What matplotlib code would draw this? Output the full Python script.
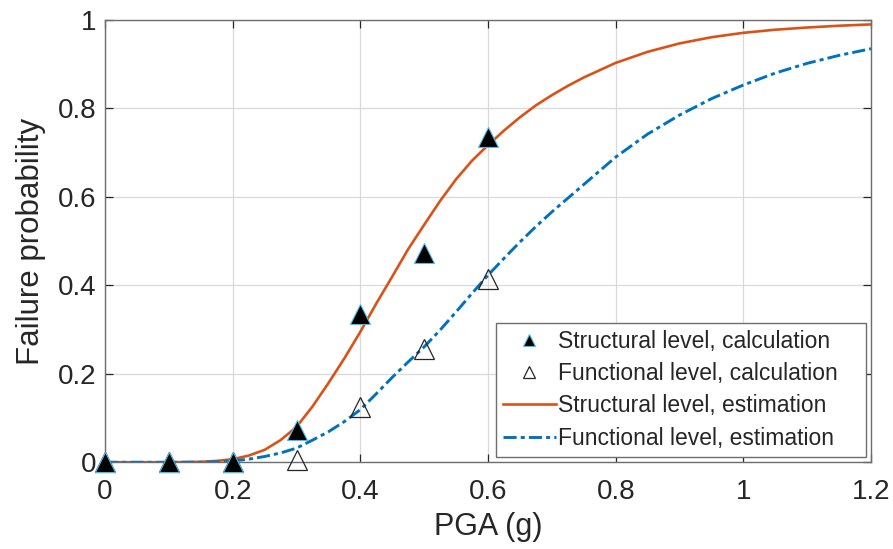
import matplotlib
matplotlib.use('Agg')
import matplotlib.pyplot as plt
import numpy as np

plt.rcParams['font.family'] = ['Liberation Sans', 'DejaVu Sans']

# --- Data ---
pga_calc = [0.0, 0.1, 0.2, 0.3, 0.4, 0.5, 0.6]
struct_calc = [0.0, 0.0, 0.0, 0.073, 0.336, 0.474, 0.736]
func_calc = [0.0, 0.0, 0.0, 0.005, 0.124, 0.256, 0.414]

pga_est = [0.0, 0.05, 0.10, 0.15, 0.175, 0.20, 0.225, 0.25, 0.275, 0.30,
           0.325, 0.35, 0.375, 0.40, 0.425, 0.45, 0.475, 0.50, 0.525, 0.55,
           0.575, 0.60, 0.625, 0.65, 0.675, 0.70, 0.725, 0.75, 0.80, 0.85,
           0.90, 0.95, 1.00, 1.05, 1.10, 1.15, 1.20]
struct_est = [0.0, 0.0, 0.0, 0.001, 0.003, 0.007, 0.015, 0.028, 0.050, 0.080,
              0.126, 0.179, 0.235, 0.295, 0.359, 0.420, 0.482, 0.537, 0.591, 0.640,
              0.682, 0.717, 0.750, 0.780, 0.807, 0.830, 0.851, 0.870, 0.903, 0.928,
              0.947, 0.961, 0.971, 0.978, 0.983, 0.987, 0.990]
func_est = [0.0, 0.0, 0.0, 0.0, 0.001, 0.003, 0.007, 0.013, 0.021, 0.032,
            0.050, 0.069, 0.092, 0.119, 0.155, 0.192, 0.227, 0.261, 0.299, 0.340,
            0.382, 0.423, 0.461, 0.498, 0.533, 0.566, 0.597, 0.628, 0.690, 0.742,
            0.785, 0.822, 0.853, 0.880, 0.902, 0.920, 0.935]

xticks = [0, 0.2, 0.4, 0.6, 0.8, 1.0, 1.2]
xtick_labels = ['0', '0.2', '0.4', '0.6', '0.8', '1', '1.2']
yticks = [0, 0.2, 0.4, 0.6, 0.8, 1.0]
ytick_labels = ['0', '0.2', '0.4', '0.6', '0.8', '1']

ORANGE = '#D95319'
BLUE = '#0072BD'
CYAN = '#4DBEEE'
AXC = '#262626'

fig = plt.figure(figsize=(8.93, 5.49), dpi=100)
ax = fig.add_axes([0.1176, 0.158, 0.8578, 0.8056])

ax.plot(pga_calc, struct_calc, linestyle='none', marker='^', markersize=14.5,
        markerfacecolor='black', markeredgecolor=CYAN, markeredgewidth=0.8,
        label='Structural level, calculation', zorder=4, clip_on=False)
ax.plot(pga_calc, func_calc, linestyle='none', marker='^', markersize=14.5,
        markerfacecolor='none', markeredgecolor=AXC, markeredgewidth=0.9,
        label='Functional level, calculation', zorder=3, clip_on=False)
ax.plot(pga_est, struct_est, color=ORANGE, lw=1.9,
        label='Structural level, estimation', zorder=2)
ax.plot(pga_est, func_est, color=BLUE, lw=2.1, dashes=(4.5, 1.4, 1.4, 1.4),
        label='Functional level, estimation', zorder=2.5)

ax.set_xlim(0, 1.2)
ax.set_ylim(0, 1)
ax.set_xticks(xticks)
ax.set_xticklabels(xtick_labels)
ax.set_yticks(yticks)
ax.set_yticklabels(ytick_labels)
ax.grid(True, color='#d9d9d9', lw=0.9)
ax.set_axisbelow(True)

ax.tick_params(direction='in', length=6, width=0.9, colors=AXC,
               labelsize=20, top=True, right=True)
ax.tick_params(axis='x', pad=12)
ax.tick_params(axis='y', pad=6)
for s in ax.spines.values():
    s.set_color('#6e6e6e')
    s.set_linewidth(1.0)

ax.set_xlabel('PGA (g)', fontsize=22, color=AXC, labelpad=5)
ax.set_ylabel('Failure probability', fontsize=22.5, color=AXC, labelpad=9)

leg = ax.legend(loc='lower left', bbox_to_anchor=(0.510, 0.012, 0.4835, 0.3),
                mode='expand', borderaxespad=0, fontsize=16.5, markerscale=0.55,
                handlelength=2.3, handletextpad=0.12, labelspacing=0.4,
                fancybox=False, framealpha=1, edgecolor='#6e6e6e',
                borderpad=0.32)
leg.get_frame().set_linewidth(1.0)
for t in leg.get_texts():
    t.set_color(AXC)

fig.savefig('out.png', dpi=100)
